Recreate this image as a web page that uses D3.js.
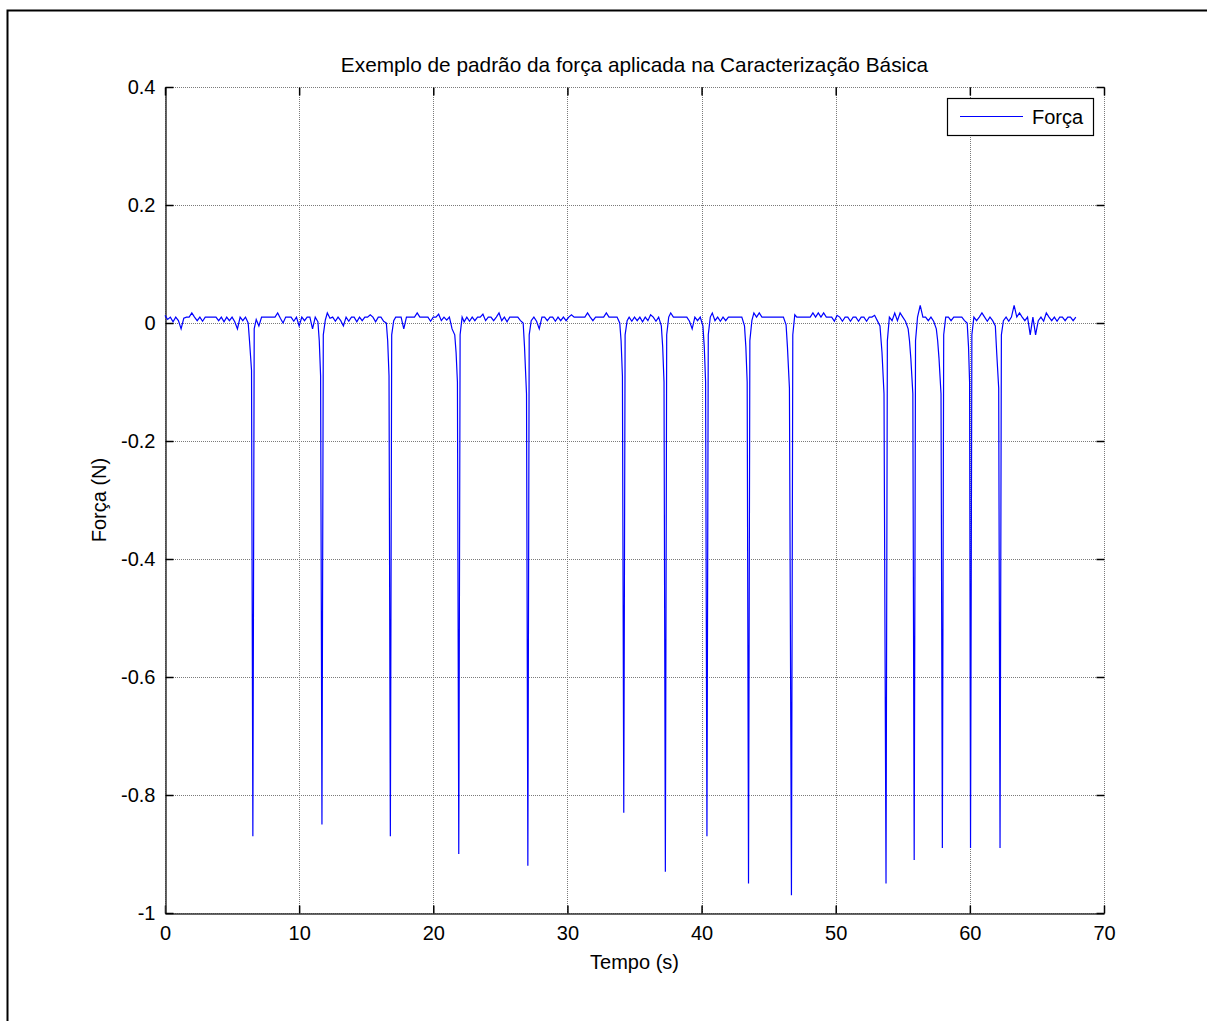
<!DOCTYPE html>
<html>
<head>
<meta charset="utf-8">
<script src="https://cdn.jsdelivr.net/npm/d3@7"></script>
<style>
  html, body { margin: 0; padding: 0; background: #fff; }
  svg { display: block; font-family: "Liberation Sans", Arial, sans-serif; }
</style>
</head>
<body>
<svg id="chart" width="1207" height="1021"></svg>
<script>
// ---- data ----
const titleText = "Exemplo de padrão da força aplicada na Caracterização Básica";
const xLabel = "Tempo (s)";
const yLabel = "Força (N)";
const seriesName = "Força";
const xTicks = [0, 10, 20, 30, 40, 50, 60, 70];
const yTicks = [0.4, 0.2, 0, -0.2, -0.4, -0.6, -0.8, -1];
const yTickLabels = ["0.4", "0.2", "0", "-0.2", "-0.4", "-0.6", "-0.8", "-1"];

const tempo = [
  0.0,0.2,0.4,0.6,0.8,1.0,1.2,1.4,1.6,1.8,2.0,2.2,2.4,2.6,2.8,3.0,3.2,3.4,3.6,3.8,4.0,4.2,4.4,4.6,4.8,5.0,5.2,5.4,5.6,5.8,6.0,6.2,
  6.3,6.45,6.55,6.65,6.8,
  7.0,7.2,7.4,7.6,7.8,8.0,8.2,8.4,8.6,8.8,9.0,9.2,9.4,9.6,9.8,10.0,10.2,10.4,10.6,10.8,11.0,11.2,11.4,
  11.5,11.6,11.7,11.8,11.95,
  12.1,12.3,12.5,12.7,12.9,13.1,13.3,13.5,13.7,13.9,14.1,14.3,14.5,14.7,14.9,15.1,15.3,15.5,15.7,15.9,16.1,16.3,16.5,
  16.6,16.7,16.8,16.9,17.05,
  17.2,17.4,17.6,17.8,18.0,18.2,18.4,18.6,18.8,19.0,19.2,19.4,19.6,19.8,20.0,20.2,20.4,20.6,20.8,21.0,21.2,21.4,21.6,
  21.7,21.8,21.9,22.0,22.15,
  22.3,22.5,22.7,22.9,23.1,23.3,23.5,23.7,23.9,24.1,24.3,24.5,24.7,24.9,25.1,25.3,25.5,25.7,25.9,26.1,26.3,26.5,26.7,
  26.8,26.95,27.05,27.15,27.3,
  27.5,27.7,27.9,28.1,28.3,28.5,28.7,28.9,29.1,29.3,29.5,29.7,29.9,30.1,30.3,30.5,30.7,30.9,31.1,31.3,31.5,31.7,31.9,32.1,32.3,32.5,32.7,32.9,33.1,33.3,33.5,33.7,33.9,
  34.0,34.1,34.2,34.3,34.45,
  34.6,34.8,35.0,35.2,35.4,35.6,35.8,36.0,36.2,36.4,36.6,36.8,37.0,
  37.1,37.2,37.3,37.4,37.55,
  37.7,37.9,38.1,38.3,38.5,38.7,38.9,39.1,39.3,39.5,39.7,39.9,40.1,
  40.2,40.3,40.4,40.5,40.65,
  40.8,41.0,41.2,41.4,41.6,41.8,42.0,42.2,42.4,42.6,42.8,43.0,43.2,
  43.3,43.4,43.5,43.6,43.75,
  43.9,44.1,44.3,44.5,44.7,44.9,45.1,45.3,45.5,45.7,45.9,46.1,46.3,
  46.4,46.55,46.7,46.8,46.95,
  47.1,47.3,47.5,47.7,47.9,48.1,48.3,48.5,48.7,48.9,49.1,49.3,49.5,49.7,49.9,50.1,50.3,50.5,50.7,50.9,51.1,51.3,51.5,51.7,51.9,52.1,52.3,52.5,52.7,52.9,53.1,53.3,
  53.45,53.6,53.75,53.85,54.0,
  54.2,54.4,54.6,54.8,55.0,55.2,55.4,55.5,
  55.6,55.75,55.85,55.95,56.1,
  56.3,56.5,56.7,56.9,57.1,57.3,57.5,57.6,
  57.7,57.85,57.95,58.05,58.2,
  58.4,58.6,58.8,59.0,59.2,59.4,59.6,59.8,
  59.9,59.98,60.05,60.15,60.3,
  60.5,60.7,60.9,61.1,61.3,61.5,61.7,61.9,
  62.0,62.15,62.25,62.35,62.5,
  62.7,62.9,63.1,63.3,63.5,63.7,63.9,64.1,64.3,64.5,64.7,64.9,65.1,65.3,65.5,65.7,65.9,66.1,66.3,66.5,66.7,66.9,67.1,67.3,67.5,67.7,67.9
];

const forca = [
  0.013,0.006,0.010,0.002,0.010,0.004,-0.010,0.008,0.010,0.010,0.017,0.010,0.004,0.010,0.003,0.010,0.010,0.010,0.010,0.010,0.004,0.010,0.002,0.010,0.004,0.010,0.002,-0.010,0.010,0.004,0.010,0.000,
  -0.03,-0.08,-0.87,-0.01,0.006,
  -0.005,0.010,0.010,0.010,0.010,0.010,0.010,0.017,0.008,0.000,0.010,0.010,0.010,0.003,0.010,-0.005,0.010,0.004,0.010,0.010,-0.010,0.010,0.002,
  -0.03,-0.09,-0.85,-0.02,0.005,
  0.017,0.008,0.010,0.003,0.010,0.004,-0.005,0.010,0.003,0.010,0.010,0.002,0.010,0.004,0.010,0.010,0.014,0.010,0.002,0.010,0.010,0.003,0.000,
  -0.03,-0.09,-0.87,-0.02,0.004,
  0.010,0.010,0.010,-0.010,0.010,0.010,0.010,0.010,0.017,0.010,0.010,0.010,0.010,0.003,0.010,0.010,0.015,0.004,0.010,0.005,0.010,-0.010,-0.020,
  -0.05,-0.10,-0.90,-0.02,0.010,
  0.002,0.010,0.003,0.010,0.004,0.010,0.010,0.015,0.004,0.010,0.010,0.004,0.010,0.017,0.004,0.010,0.002,0.010,0.010,0.010,0.010,0.004,0.000,
  -0.04,-0.12,-0.92,-0.02,0.004,
  0.010,0.003,-0.010,0.010,0.010,0.004,0.010,0.010,0.003,0.010,0.004,0.010,0.004,0.010,0.014,0.010,0.010,0.010,0.010,0.010,0.017,0.010,0.004,0.010,0.010,0.010,0.010,0.017,0.010,0.010,0.010,0.010,0.000,
  -0.03,-0.09,-0.83,-0.02,0.004,
  0.010,0.003,0.010,0.004,0.010,0.002,0.010,0.004,0.014,0.010,0.003,0.010,-0.005,
  -0.04,-0.10,-0.93,-0.02,0.010,
  0.017,0.010,0.010,0.010,0.010,0.010,0.010,0.003,-0.010,0.010,0.004,0.010,-0.005,
  -0.04,-0.10,-0.87,-0.02,0.010,
  0.017,0.004,0.010,0.003,0.010,0.004,0.010,0.010,0.010,0.010,0.010,0.010,-0.005,
  -0.04,-0.10,-0.95,-0.03,0.004,
  0.017,0.010,0.017,0.010,0.010,0.010,0.010,0.010,0.010,0.010,0.010,0.010,-0.003,
  -0.04,-0.11,-0.97,-0.02,0.014,
  0.010,0.010,0.010,0.010,0.010,0.010,0.017,0.010,0.017,0.010,0.017,0.010,0.010,0.010,0.003,0.013,0.010,0.003,0.010,0.010,0.003,0.010,0.010,0.003,0.010,0.010,0.003,0.010,0.010,0.013,0.004,-0.005,
  -0.05,-0.12,-0.95,-0.03,0.010,
  0.004,0.017,0.004,0.017,0.010,0.003,-0.010,-0.030,
  -0.06,-0.12,-0.91,-0.03,0.010,
  0.030,0.010,0.010,0.004,0.010,0.003,-0.010,-0.030,
  -0.06,-0.12,-0.89,-0.02,0.010,
  0.010,0.004,0.010,0.010,0.010,0.010,0.004,0.000,
  -0.04,-0.10,-0.89,-0.02,0.010,
  0.004,0.010,0.017,0.010,0.003,0.010,0.004,-0.005,
  -0.05,-0.11,-0.89,-0.02,0.004,
  0.010,0.003,0.010,0.030,0.010,0.017,0.010,0.004,0.010,-0.020,0.010,-0.020,0.004,0.010,0.003,0.017,0.010,0.004,0.010,0.003,0.010,0.010,0.004,0.010,0.010,0.004,0.010
];

// ---- drawing ----
const svg = d3.select("#chart");
const W = 1207, H = 1021;
const plot = { left: 165, right: 1104, top: 87, bottom: 913 };

// outer figure border
svg.append("rect")
  .attr("x", 7.5).attr("y", 10.5)
  .attr("width", W + 20).attr("height", H + 20)
  .attr("fill", "none").attr("stroke", "#000").attr("stroke-width", 2);

const x = d3.scaleLinear().domain([0, 70]).range([plot.left, plot.right]);
const y = d3.scaleLinear().domain([-1, 0.4]).range([plot.bottom, plot.top]);

const gridColor = "#7a7a7a";
const g = svg.append("g");

// grid lines (dotted)
g.append("g").selectAll("line").data(xTicks).join("line")
  .attr("x1", d => Math.round(x(d)) + 0.5).attr("x2", d => Math.round(x(d)) + 0.5)
  .attr("y1", plot.top).attr("y2", plot.bottom)
  .attr("stroke", gridColor).attr("stroke-width", 1).attr("stroke-dasharray", "1,1");
g.append("g").selectAll("line").data(yTicks).join("line")
  .attr("y1", d => Math.round(y(d)) + 0.5).attr("y2", d => Math.round(y(d)) + 0.5)
  .attr("x1", plot.left).attr("x2", plot.right)
  .attr("stroke", gridColor).attr("stroke-width", 1).attr("stroke-dasharray", "1,1");

// axes: left and bottom (solid) with inward ticks
const fs = "20px";
const axisBottom = d3.axisBottom(x).tickValues(xTicks).tickFormat(d3.format("d"))
  .tickSizeInner(-8).tickSizeOuter(0).tickPadding(12);
const gx = svg.append("g").attr("transform", `translate(0,${plot.bottom + 0.5})`).call(axisBottom);
gx.select(".domain").attr("stroke", "#333").attr("stroke-width", 1.5);
gx.selectAll(".tick line").attr("stroke", "#000").attr("stroke-width", 1.5);
gx.selectAll("text").attr("font-size", fs).attr("fill", "#000")
  .attr("font-family", "'Liberation Sans', Arial, sans-serif");

const axisLeft = d3.axisLeft(y).tickValues(yTicks).tickFormat((d, i) => yTickLabels[i])
  .tickSizeInner(-8).tickSizeOuter(0).tickPadding(10);
const gy = svg.append("g").attr("transform", `translate(${plot.left + 0.5},0)`).call(axisLeft);
gy.select(".domain").attr("stroke", "#333").attr("stroke-width", 1.5);
gy.selectAll(".tick line").attr("stroke", "#000").attr("stroke-width", 1.5);
gy.selectAll("text").attr("font-size", fs).attr("fill", "#000")
  .attr("font-family", "'Liberation Sans', Arial, sans-serif");

// top and right ticks (inward), no labels
const axisTop = d3.axisTop(x).tickValues(xTicks).tickFormat("").tickSizeInner(-8).tickSizeOuter(0);
const gt = svg.append("g").attr("transform", `translate(0,${plot.top + 0.5})`).call(axisTop);
gt.select(".domain").remove();
gt.selectAll(".tick line").attr("stroke", "#000").attr("stroke-width", 1.5);
const axisRight = d3.axisRight(y).tickValues(yTicks).tickFormat("").tickSizeInner(-8).tickSizeOuter(0);
const gr = svg.append("g").attr("transform", `translate(${plot.right + 0.5},0)`).call(axisRight);
gr.select(".domain").remove();
gr.selectAll(".tick line").attr("stroke", "#000").attr("stroke-width", 1.5);

// data line
const pts = tempo.map((t, i) => [t, forca[i]]);
const line = d3.line().x(d => x(d[0])).y(d => y(d[1]));
svg.append("path").datum(pts)
  .attr("d", line)
  .attr("fill", "none").attr("stroke", "#0000ff").attr("stroke-width", 1.2)
  .attr("stroke-linejoin", "miter");

// title and labels
svg.append("text").attr("x", (plot.left + plot.right) / 2).attr("y", 72)
  .attr("text-anchor", "middle").attr("font-size", "20.8px").text(titleText);
svg.append("text").attr("x", (plot.left + plot.right) / 2).attr("y", 969)
  .attr("text-anchor", "middle").attr("font-size", fs).text(xLabel);
svg.append("text").attr("transform", `translate(106,${(plot.top + plot.bottom) / 2}) rotate(-90)`)
  .attr("text-anchor", "middle").attr("font-size", fs).text(yLabel);

// legend
const lg = svg.append("g");
lg.append("rect").attr("x", 947.5).attr("y", 98.5).attr("width", 146).attr("height", 37)
  .attr("fill", "#fff").attr("stroke", "#000").attr("stroke-width", 1.2);
lg.append("line").attr("x1", 960).attr("x2", 1023).attr("y1", 116.5).attr("y2", 116.5)
  .attr("stroke", "#0000ff").attr("stroke-width", 1.2);
lg.append("text").attr("x", 1032).attr("y", 124).attr("font-size", fs).text(seriesName);
</script>
</body>
</html>
